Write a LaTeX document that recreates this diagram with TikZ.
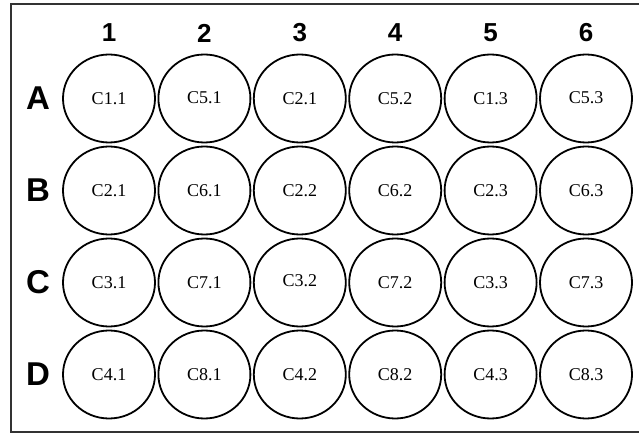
\documentclass[tikz,border=0pt]{standalone}
\usepackage{fontspec}
\setmainfont{Liberation Serif}
\newfontfamily\platefont{Liberation Sans}
\usetikzlibrary{shapes.geometric}

\tikzset{
  well/.style={draw,ellipse,line width=1.8pt,minimum width=92pt,minimum height=88pt,inner sep=0pt,font=\fontsize{18}{18}\selectfont},
  colhead/.style={font=\platefont\bfseries\fontsize{26}{26}\selectfont},
  rowhead/.style={font=\platefont\bfseries\fontsize{33}{33}\selectfont}
}

\begin{document}
\begin{tikzpicture}[x=1pt,y=-1pt]
  \useasboundingbox (0,0) rectangle (639,435);
  % Plate frame (right side cut off)
  \draw[black!80,line width=2.2pt] (639,4) -- (11,4) -- (11,432) -- (639,432);

  % Column numbers
  \foreach \c in {1,...,6}
    \node[colhead] (col\c) at ({109+95.4*(\c-1)},33) {\c};
  % Row letters
  \foreach \r [count=\i] in {A,B,C,D}
    \node[rowhead] (row\r) at (38,{98.5+92*(\i-1)}) {\r};

  % Wells (label / small vertical offset of the text)
  \foreach \lbl/\dy [count=\c] in {C1.1/0,C5.1/-2,C2.1/0,C5.2/0,C1.3/1,C5.3/-2}
    \node[well] (A\c) at ({109+95.4*(\c-1)},98.5) {\raisebox{-\dy pt}{\lbl}};
  \foreach \lbl/\dy [count=\c] in {C2.1/0,C6.1/0,C2.2/0,C6.2/0,C2.3/0,C6.3/1}
    \node[well] (B\c) at ({109+95.4*(\c-1)},190.5) {\raisebox{-\dy pt}{\lbl}};
  \foreach \lbl/\dy [count=\c] in {C3.1/0,C7.1/0,C3.2/-4,C7.2/0,C3.3/0,C7.3/0}
    \node[well] (C\c) at ({109+95.4*(\c-1)},282.5) {\raisebox{-\dy pt}{\lbl}};
  \foreach \lbl/\dy [count=\c] in {C4.1/0,C8.1/0,C4.2/0,C8.2/0,C4.3/0,C8.3/0}
    \node[well] (D\c) at ({109+95.4*(\c-1)},374.5) {\raisebox{-\dy pt}{\lbl}};
\end{tikzpicture}
\end{document}
